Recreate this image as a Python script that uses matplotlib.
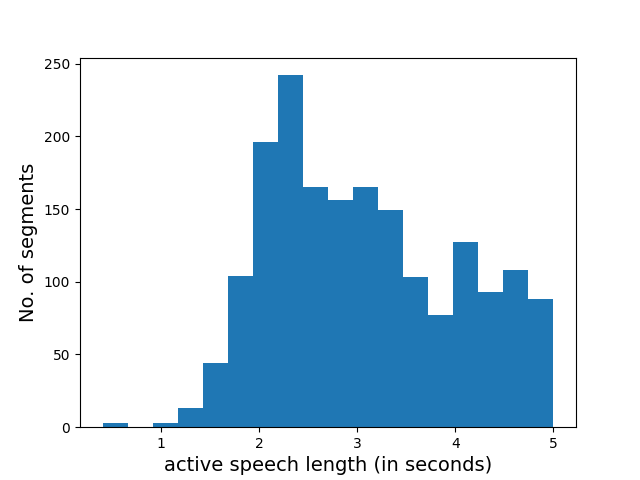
import numpy as np
import matplotlib
matplotlib.use("Agg")
import matplotlib.pyplot as plt

bin_start = 0.4
bin_end = 5.0
n_bins = 18
counts = [3, 0, 3, 13, 44, 104, 196, 242, 165, 156, 165, 149, 103, 77, 127, 93, 108, 88]

edges = np.linspace(bin_start, bin_end, n_bins + 1)
centers = (edges[:-1] + edges[1:]) / 2

fig, ax = plt.subplots(figsize=(6.4, 4.8), dpi=100)
ax.hist(centers, bins=edges, weights=counts, color="#1f77b4")
ax.set_xlabel("active speech length (in seconds)", fontsize=14)
ax.set_ylabel("No. of segments", fontsize=14)
fig.savefig("out.png")
